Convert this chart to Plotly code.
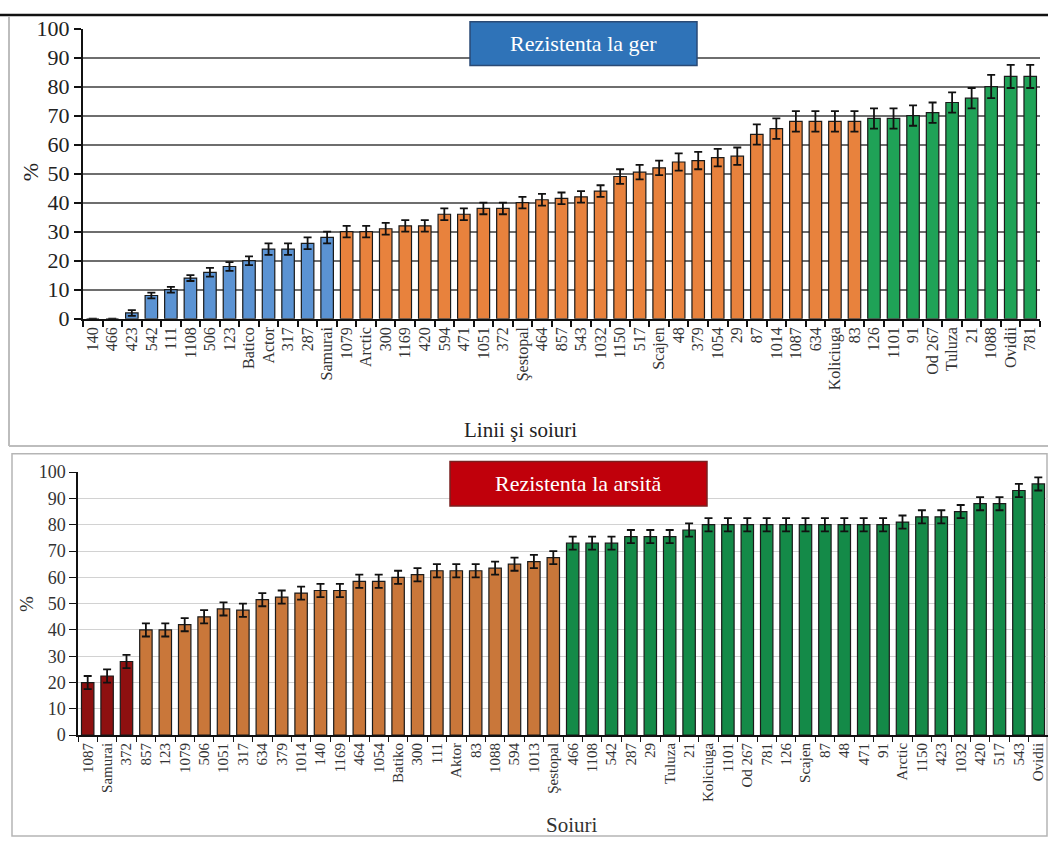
import plotly.graph_objects as go

# ---------------- Data: top chart (Rezistenta la ger) ----------------
top_blue_cats = ["140", "466", "423", "542", "111", "1108", "506", "123", "Batico", "Actor", "317", "287", "Samurai"]
top_blue_vals = [0, 0, 2, 8, 10, 14, 16, 18, 20, 24, 24, 26, 28]
top_blue_err = [0, 0, 1, 1, 1, 1, 1.5, 1.5, 1.5, 2, 2, 2, 2]

top_orange_cats = ["1079", "Arctic", "300", "1169", "420", "594", "471", "1051", "372", "Şestopal", "464", "857",
                   "543", "1032", "1150", "517", "Scajen", "48", "379", "1054", "29", "87", "1014", "1087", "634",
                   "Koliciuga", "83"]
top_orange_vals = [30, 30, 31, 32, 32, 36, 36, 38, 38, 40, 41, 41.5, 42, 44, 49, 50.5, 52, 54, 54.5, 55.5, 56,
                   63.5, 65.5, 68, 68, 68, 68]
top_orange_err = [2, 2, 2, 2, 2, 2, 2, 2, 2, 2, 2, 2, 2, 2, 2.5, 2.5, 2.5, 3, 3, 3, 3, 3.5, 3.5, 3.5, 3.5, 3.5, 3.5]

top_green_cats = ["126", "1101", "91", "Od 267", "Tuluza", "21", "1088", "Ovidii", "781"]
top_green_vals = [69, 69, 70, 71, 74.5, 76, 80, 83.5, 83.5]
top_green_err = [3.5, 3.5, 3.5, 3.5, 3.5, 3.5, 4, 4, 4]

# ---------------- Data: bottom chart (Rezistenta la arsita) ----------------
bot_red_cats = ["1087", "Samurai", "372"]
bot_red_vals = [20, 22.5, 28]
bot_red_err = [2.5, 2.5, 2.5]

bot_orange_cats = ["857", "123", "1079", "506", "1051", "317", "634", "379", "1014", "140", "1169", "464", "1054",
                   "Batiko", "300", "111", "Aktor", "83", "1088", "594", "1013", "Şestopal"]
bot_orange_vals = [40, 40, 42, 45, 48, 47.5, 51.5, 52.5, 54, 55, 55, 58.5, 58.5, 60, 61, 62.5, 62.5, 62.5, 63.5,
                   65, 66, 67.5]
bot_orange_err = [2.5] * 22

bot_green_cats = ["466", "1108", "542", "287", "29", "Tuluza", "21", "Koliciuga", "1101", "Od 267", "781", "126",
                  "Scajen", "87", "48", "471", "91", "Arctic", "1150", "423", "1032", "420", "517", "543", "Ovidii"]
bot_green_vals = [73, 73, 73, 75.5, 75.5, 75.5, 78, 80, 80, 80, 80, 80, 80, 80, 80, 80, 80, 81, 83, 83, 85, 88, 88,
                  93, 95.5]
bot_green_err = [2.5] * 25

y_ticks = [0, 10, 20, 30, 40, 50, 60, 70, 80, 90, 100]

W, H = 1048, 853
SERIF = "Liberation Serif, Times New Roman, serif"


def px(x):
    return x / W


def py(y):
    return 1 - y / H


fig = go.Figure()


def add_bars(cats, vals, errs, color, xa, ya):
    fig.add_trace(go.Bar(
        x=cats, y=vals, xaxis=xa, yaxis=ya,
        marker=dict(color=color, line=dict(color="#1a1a1a", width=1.2)),
        error_y=dict(type="data", array=errs, visible=True, color="#111", thickness=1.8, width=4),
        showlegend=False, hoverinfo="x+y",
    ))


top_cats = top_blue_cats + top_orange_cats + top_green_cats
bot_cats = bot_red_cats + bot_orange_cats + bot_green_cats

add_bars(top_blue_cats, top_blue_vals, top_blue_err, "#5b93d3", "x", "y")
add_bars(top_orange_cats, top_orange_vals, top_orange_err, "#e8823d", "x", "y")
add_bars(top_green_cats, top_green_vals, top_green_err, "#1fa257", "x", "y")

add_bars(bot_red_cats, bot_red_vals, bot_red_err, "#8e1010", "x2", "y2")
add_bars(bot_orange_cats, bot_orange_vals, bot_orange_err, "#c9773a", "x2", "y2")
add_bars(bot_green_cats, bot_green_vals, bot_green_err, "#148a48", "x2", "y2")

fig.update_layout(
    width=W, height=H, autosize=False,
    margin=dict(l=0, r=0, t=0, b=0),
    paper_bgcolor="white", plot_bgcolor="white",
    bargap=0.36, barmode="group",
    font=dict(family=SERIF, color="#222"),
    xaxis=dict(domain=[px(83), px(1040)], anchor="y", type="category",
               categoryorder="array", categoryarray=top_cats,
               tickangle=-90, tickfont=dict(family=SERIF, size=16, color="#333"),
               showline=True, linecolor="#111", linewidth=2,
               ticks="outside", ticklen=6, tickcolor="#111", tickwidth=1.5, tickson="boundaries",
               showgrid=False, fixedrange=True),
    yaxis=dict(domain=[py(316), py(17)], anchor="x", range=[0, 100],
               tickvals=y_ticks, tickfont=dict(family=SERIF, size=22, color="#222"),
               showline=True, linecolor="#111", linewidth=2,
               ticks="outside", ticklen=7, tickcolor="#111", tickwidth=1.5,
               showgrid=True, gridcolor="#6e6e6e", gridwidth=1.8, zeroline=False, fixedrange=True),
    xaxis2=dict(domain=[px(78), px(1048)], anchor="y2", type="category",
                categoryorder="array", categoryarray=bot_cats,
                tickangle=-90, tickfont=dict(family=SERIF, size=15, color="#333"),
                showline=True, linecolor="#111", linewidth=1.5,
                ticks="outside", ticklen=5, tickcolor="#111", tickwidth=1.2, tickson="boundaries",
                showgrid=False, fixedrange=True),
    yaxis2=dict(domain=[py(745), py(474)], anchor="x2", range=[0, 100],
                tickvals=y_ticks, tickfont=dict(family=SERIF, size=18, color="#333"),
                showline=True, linecolor="#111", linewidth=1.5,
                ticks="outside", ticklen=7, tickcolor="#111", tickwidth=1.2,
                showgrid=True, gridcolor="#d2d2d2", gridwidth=1, zeroline=False, fixedrange=True),
)

shapes = [
    # top black rule
    dict(type="line", xref="paper", yref="paper", x0=0, x1=1, y0=py(3), y1=py(3),
         line=dict(color="#111", width=2.5), layer="below"),
    # top panel frame
    dict(type="line", xref="paper", yref="paper", x0=px(9), x1=px(9), y0=py(5), y1=py(447),
         line=dict(color="#bdbdbd", width=2), layer="below"),
    dict(type="line", xref="paper", yref="paper", x0=px(9), x1=1, y0=py(447), y1=py(447),
         line=dict(color="#bdbdbd", width=2), layer="below"),
    # bottom panel frame
    dict(type="rect", xref="paper", yref="paper", x0=px(12), x1=px(1047), y0=py(849), y1=py(455),
         line=dict(color="#b5b5b5", width=1.5), layer="below"),
    # title boxes
    dict(type="rect", xref="paper", yref="paper", x0=px(470), x1=px(697), y0=py(55), y1=py(10),
         fillcolor="#2f73b8", line=dict(color="#2a4a75", width=1.5), layer="above"),
    dict(type="rect", xref="paper", yref="paper", x0=px(450), x1=px(707), y0=py(509), y1=py(463),
         fillcolor="#c0000b", line=dict(color="#7a2020", width=1.5), layer="above"),
]

annotations = [
    dict(text="Rezistenta la ger", xref="paper", yref="paper", x=px(583), y=py(32),
         showarrow=False, font=dict(family=SERIF, size=22, color="white"), xanchor="center", yanchor="middle"),
    dict(text="Rezistenta la arsită", xref="paper", yref="paper", x=px(578), y=py(486),
         showarrow=False, font=dict(family=SERIF, size=22, color="white"), xanchor="center", yanchor="middle"),
    dict(text="%", xref="paper", yref="paper", x=px(30), y=py(165), textangle=-90,
         showarrow=False, font=dict(family=SERIF, size=22, color="#222"), xanchor="center", yanchor="middle"),
    dict(text="%", xref="paper", yref="paper", x=px(26), y=py(610), textangle=-90,
         showarrow=False, font=dict(family=SERIF, size=19, color="#333"), xanchor="center", yanchor="middle"),
    dict(text="Linii şi soiuri", xref="paper", yref="paper", x=px(520), y=py(431),
         showarrow=False, font=dict(family=SERIF, size=21, color="#222"), xanchor="center", yanchor="middle"),
    dict(text="Soiuri", xref="paper", yref="paper", x=px(572), y=py(838),
         showarrow=False, font=dict(family=SERIF, size=21, color="#333"), xanchor="center", yanchor="middle"),
]

fig.update_layout(shapes=shapes, annotations=annotations)

fig.write_html("out.html")
